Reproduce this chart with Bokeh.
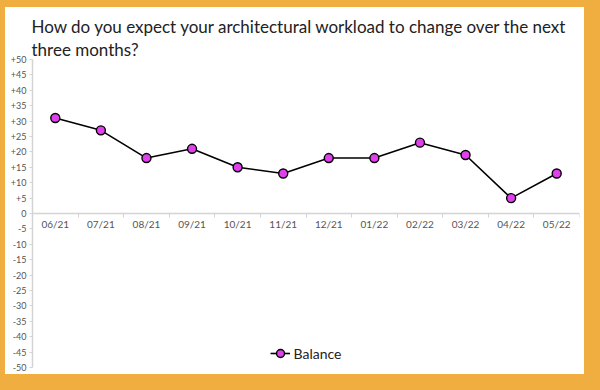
from bokeh.plotting import figure
from bokeh.models import FixedTicker, Range1d, Title, Legend, LegendItem
from bokeh.embed import file_html
from bokeh.resources import INLINE

# ---- data ----
months = ["06/21", "07/21", "08/21", "09/21", "10/21", "11/21",
          "12/21", "01/22", "02/22", "03/22", "04/22", "05/22"]
balance = [31, 27, 18, 21, 15, 13, 18, 18, 23, 19, 5, 13]
y_ticks = list(range(-50, 51, 5))
y_tick_labels = [("+%d" % t) if t > 0 else str(t) for t in y_ticks]
title_line1 = "How do you expect your architectural workload to change over the next"
title_line2 = "three months?"
series_name = "Balance"

idx = list(range(len(months)))

ORANGE = "#f1ae40"
TXT = "#222222"
TICK_TXT = "#555555"
AXIS_C = "#d4d4d4"
FONT = "Lato"
W, H = 584, 374

p = figure(width=W, height=H, output_backend="svg", toolbar_location=None,
           x_range=Range1d(-0.5, len(months) - 0.5), y_range=Range1d(-50, 50),
           min_border_left=27, min_border_right=10, min_border_bottom=14,
           min_border_top=52)
# orange page frame: left/top borders plus shadows to the right and below
p.styles = {
    "border-left": "5px solid " + ORANGE,
    "border-top": "7px solid " + ORANGE,
    "box-shadow": "16px 0 0 0 %s, 0 16px 0 0 %s, 16px 16px 0 0 %s" % (ORANGE, ORANGE, ORANGE),
}

p.background_fill_color = "white"
p.border_fill_color = "white"
p.outline_line_color = None
p.grid.visible = False

# titles (second line first so it sits closest to the plot)
for t in (title_line2, title_line1):
    p.add_layout(Title(text=t, text_font=FONT, text_font_size="17px",
                       text_font_style="normal", text_color=TXT, align="left",
                       offset=-1, standoff=0), "above")

# x axis at y = 0
xa = p.xaxis[0]
xa.fixed_location = 0
xa.ticker = FixedTicker(ticks=idx,
                        minor_ticks=[i - 0.5 for i in idx] + [len(months) - 0.5])
xa.major_label_overrides = {i: m for i, m in zip(idx, months)}
xa.major_tick_out = 0
xa.major_tick_in = 0
xa.minor_tick_out = 4
xa.minor_tick_in = 0
xa.minor_tick_line_color = AXIS_C
xa.axis_line_color = AXIS_C
xa.axis_line_width = 1.5
xa.major_label_text_font = FONT
xa.major_label_text_font_size = "10px"
xa.major_label_text_color = TICK_TXT
xa.major_label_standoff = 0

ya = p.yaxis[0]
ya.ticker = FixedTicker(ticks=y_ticks)
ya.major_label_overrides = {t: l for t, l in zip(y_ticks, y_tick_labels)}
ya.major_tick_out = 3
ya.major_tick_in = 0
ya.minor_tick_out = 0
ya.minor_tick_in = 0
ya.axis_line_color = AXIS_C
ya.axis_line_width = 1.5
ya.major_tick_line_color = AXIS_C
ya.major_label_text_font = FONT
ya.major_label_text_font_size = "9px"
ya.major_label_text_color = TICK_TXT
ya.major_label_standoff = 3

ln = p.line(idx, balance, line_color="black", line_width=1.6)
sc = p.scatter(idx, balance, size=9, fill_color="#e040ec", line_color="black",
               line_width=1.4)

legend = Legend(items=[LegendItem(label=series_name, renderers=[ln, sc])],
                location="bottom_center", border_line_color=None,
                background_fill_alpha=0, label_text_font=FONT,
                label_text_font_size="14px", label_text_color=TXT,
                glyph_width=20, label_standoff=4, margin=4, padding=2)
p.add_layout(legend)

open("out.html", "w").write(file_html(p, INLINE))
